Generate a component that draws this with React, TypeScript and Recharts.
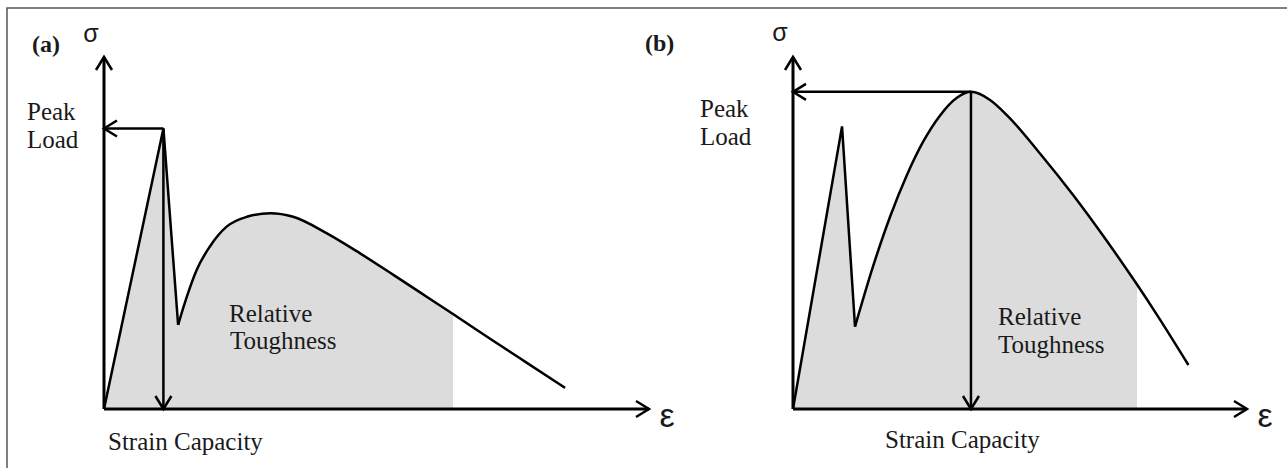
import React from "react";
import { ComposedChart, Line, Area, XAxis, YAxis, ReferenceLine } from "recharts";

// strain / stress in arbitrary units, both axes run 0..100
// panel (a): elastic rise + sharp drop, then softer hump
const aRiseStrain = [0, 10.9, 13.6];
const aRiseStress = [0, 79.7, 23.9];
const aHumpStrain = [13.6, 15.2, 17.0, 19.4, 22.5, 26.2, 30.5, 34.7, 40.9, 47.0, 53.1, 59.2, 64.1, 71.4, 77.6, 84.6];
const aHumpStress = [23.9, 31.9, 39.5, 46.1, 51.8, 54.6, 55.6, 54.6, 49.9, 44.2, 38.1, 31.9, 26.9, 19.4, 13.1, 6.0];
const aShadeEnd = 64.1;

// panel (b): first crack peak, then hardening to a higher peak
const bRiseStrain = [0, 10.8, 13.66];
const bRiseStress = [0, 80.3, 23.4];
const bHumpStrain = [13.66, 17.7, 21.4, 25.0, 28.7, 32.4, 36.1, 39.2, 43.4, 47.1, 54.4, 61.7, 69.1, 75.7, 80.1, 87.1];
const bHumpStress = [23.4, 40.8, 54.7, 66.2, 76.0, 83.4, 88.4, 90.1, 87.8, 83.5, 72.6, 60.8, 47.8, 35.5, 26.9, 12.5];
const bShadeEnd = 75.7;

type Pt = { x: number; y: number };

const zip = (xs: number[], ys: number[]): Pt[] => xs.map((x, i) => ({ x, y: ys[i] }));
const peakOf = (pts: Pt[]) => pts.reduce((m, p) => (p.y > m.y ? p : m), pts[0]);

const INK = "#000";
const FILL = "#dcdcdc";
const TEXT = "#1a1a1a";

// open chevron arrow drawn from (x1,y1) to (x2,y2)
const arrowShape = (props: any) => {
  const { x1, y1, x2, y2 } = props;
  const ang = Math.atan2(y2 - y1, x2 - x1);
  const head = 13;
  const half = 8;
  const bx = x2 - head * Math.cos(ang);
  const by = y2 - head * Math.sin(ang);
  const px = -Math.sin(ang) * half;
  const py = Math.cos(ang) * half;
  return (
    <g>
      <line x1={x1} y1={y1} x2={x2} y2={y2} stroke={INK} strokeWidth={props.strokeWidth ?? 2.5} />
      <polyline
        points={`${bx + px},${by + py} ${x2},${y2} ${bx - px},${by - py}`}
        fill="none"
        stroke={INK}
        strokeWidth={2.5}
      />
    </g>
  );
};

interface PanelProps {
  id: string;
  rise: Pt[];
  hump: Pt[];
  shadeEnd: number;
  left: number;
  width: number;
  margin: { top: number; right: number; bottom: number; left: number };
}

function Panel({ id, rise, hump, shadeEnd, left, width, margin }: PanelProps) {
  const peak = peakOf([...rise, ...hump]);
  const dip = rise[rise.length - 1];
  const x0 = hump[0].x;
  const x1 = hump[hump.length - 1].x;
  // shaded part stops at shadeEnd, cut with a hard gradient stop
  const cut = (shadeEnd - x0) / (x1 - x0);
  return (
    <div style={{ position: "absolute", left, top: 0 }}>
      <ComposedChart width={width} height={468} margin={margin}>
        <defs>
          <linearGradient id={`shade-${id}`} x1="0" y1="0" x2="1" y2="0">
            <stop offset={cut} stopColor={FILL} stopOpacity={1} />
            <stop offset={cut} stopColor={FILL} stopOpacity={0} />
          </linearGradient>
        </defs>
        <XAxis type="number" dataKey="x" domain={[0, 100]} hide />
        <YAxis type="number" domain={[0, 100]} hide />
        <Area data={rise} dataKey="y" type="linear" fill={FILL} fillOpacity={1} stroke="none" isAnimationActive={false} />
        <Area data={hump} dataKey="y" type="monotone" fill={`url(#shade-${id})`} fillOpacity={1} stroke="none" isAnimationActive={false} />
        {/* hide the anti-alias seam where the two fills meet */}
        <ReferenceLine segment={[{ x: dip.x, y: 0 }, { x: dip.x, y: dip.y - 1 }]} stroke={FILL} strokeWidth={2} ifOverflow="visible" />
        <Line data={rise} dataKey="y" type="linear" stroke={INK} strokeWidth={2.5} dot={false} isAnimationActive={false} />
        <Line data={hump} dataKey="y" type="monotone" stroke={INK} strokeWidth={2.5} dot={false} isAnimationActive={false} />
        <ReferenceLine segment={[{ x: 0, y: 0 }, { x: 100, y: 0 }]} shape={arrowShape} strokeWidth={3} ifOverflow="visible" />
        <ReferenceLine segment={[{ x: 0, y: 0 }, { x: 0, y: 100 }]} shape={arrowShape} strokeWidth={3} ifOverflow="visible" />
        <ReferenceLine segment={[{ x: peak.x, y: peak.y }, { x: 0, y: peak.y }]} shape={arrowShape} strokeWidth={2.5} ifOverflow="visible" />
        <ReferenceLine segment={[{ x: peak.x, y: peak.y }, { x: peak.x, y: 0 }]} shape={arrowShape} strokeWidth={2.5} ifOverflow="visible" />
      </ComposedChart>
    </div>
  );
}

const serif = "'Liberation Serif', 'Times New Roman', serif";
const sans = "'Liberation Sans', Arial, sans-serif";

export default function App() {
  return (
    <div style={{ position: "fixed", left: 0, top: 0, width: 1287, height: 468, background: "#fff", overflow: "hidden" }}>
      <Panel
        id="a"
        rise={zip(aRiseStrain, aRiseStress)}
        hump={zip(aHumpStrain, aHumpStress)}
        shadeEnd={aShadeEnd}
        left={0}
        width={680}
        margin={{ top: 57, right: 31, bottom: 59, left: 104 }}
      />
      <Panel
        id="b"
        rise={zip(bRiseStrain, bRiseStress)}
        hump={zip(bHumpStrain, bHumpStress)}
        shadeEnd={bShadeEnd}
        left={680}
        width={607}
        margin={{ top: 57, right: 40, bottom: 59, left: 113 }}
      />
      <svg width={1287} height={468} style={{ position: "absolute", left: 0, top: 0, pointerEvents: "none" }}>
        <rect x={7} y={8} width={1300} height={500} fill="none" stroke="#555" strokeWidth={1.5} />
        <g fill={TEXT} fontFamily={serif} fontSize={25}>
          <text x={32} y={52} fontWeight="bold" fontSize={24}>(a)</text>
          <text x={27} y={120}>Peak</text>
          <text x={27} y={148}>Load</text>
          <text x={229} y={322}>Relative</text>
          <text x={230} y={349}>Toughness</text>
          <text x={108} y={450}>Strain Capacity</text>

          <text x={645} y={51} fontWeight="bold" fontSize={24}>(b)</text>
          <text x={700} y={117}>Peak</text>
          <text x={700} y={145}>Load</text>
          <text x={998} y={325}>Relative</text>
          <text x={998} y={353}>Toughness</text>
          <text x={885} y={448}>Strain Capacity</text>
        </g>
        <g fill={TEXT} fontFamily={sans} textAnchor="middle">
          <text x={91} y={42} fontSize={25}>σ</text>
          <text x={780} y={41} fontSize={25}>σ</text>
          <text x={667} y={427} fontSize={34}>ε</text>
          <text x={1265} y={427} fontSize={34}>ε</text>
        </g>
      </svg>
    </div>
  );
}
